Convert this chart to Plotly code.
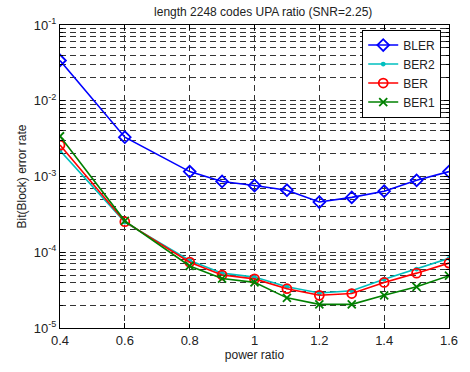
import plotly.graph_objects as go

power_ratio = [0.4, 0.6, 0.8, 0.9, 1.0, 1.1, 1.2, 1.3, 1.4, 1.5, 1.6]
bler = [0.034, 0.0033, 0.00116, 0.00086, 0.00076, 0.00066, 0.00046, 0.00053, 0.00064, 0.00089, 0.00116]
ber2 = [0.0022, 0.00025, 7.8e-5, 5.3e-5, 4.7e-5, 3.5e-5, 2.9e-5, 3.1e-5, 4.4e-5, 6.0e-5, 8.3e-5]
ber = [0.0026, 0.000253, 7.4e-5, 5.0e-5, 4.45e-5, 3.3e-5, 2.7e-5, 2.85e-5, 4.0e-5, 5.3e-5, 7.2e-5]
ber1 = [0.0034, 0.00026, 6.6e-5, 4.5e-5, 4.0e-5, 2.5e-5, 2.05e-5, 2.05e-5, 2.7e-5, 3.5e-5, 4.9e-5]

x_ticks = [0.4, 0.6, 0.8, 1.0, 1.2, 1.4, 1.6]
x_labels = ["0.4", "0.6", "0.8", "1", "1.2", "1.4", "1.6"]
decades = [-5, -4, -3, -2, -1]
y_vals = [10.0 ** d for d in decades]
y_text = [f"10<sup>{d}</sup>" for d in decades]

font = "Liberation Sans, Arial, sans-serif"
fig = go.Figure()
series = [
    ("BLER", bler, "#0000ff", "diamond-open", 9, 1.6),
    ("BER2", ber2, "#00bfbf", "circle", 3, 1.6),
    ("BER", ber, "#ff0000", "circle-open", 9, 1.6),
    ("BER1", ber1, "#008000", "x-thin-open", 8, 1.6),
]
for name, vals, col, sym, sz, w in series:
    fig.add_trace(go.Scatter(
        x=power_ratio, y=vals, name=name, mode="lines+markers",
        line=dict(color=col, width=w),
        marker=dict(symbol=sym, size=sz, color=col, line=dict(color=col, width=1.8)),
    ))

grid = dict(showgrid=True, gridcolor="#333333", griddash="6px,4px", gridwidth=1)
fig.update_xaxes(
    range=[0.4, 1.6], tickvals=x_ticks, ticktext=x_labels,
    showline=True, linecolor="black", linewidth=1, mirror="ticks",
    ticks="inside", ticklen=5, tickcolor="black",
    zeroline=False,
    title=dict(text="power ratio", font=dict(size=12, color="#222", family=font), standoff=4),
    tickfont=dict(size=13, color="#222", family=font),
    **grid,
)
fig.update_yaxes(
    type="log", range=[-5, -1], tickvals=y_vals, ticktext=y_text,
    showline=True, linecolor="black", linewidth=1, mirror="ticks",
    ticks="inside", ticklen=5, tickcolor="black",
    minor=dict(dtick="D1", showgrid=True, gridcolor="#333333", griddash="6px,4px",
               gridwidth=1, ticks="inside", ticklen=3, tickcolor="black"),
    title=dict(text="Bit(Block) error rate", font=dict(size=12, color="#222", family=font), standoff=4),
    tickfont=dict(size=13, color="#222", family=font),
    **grid,
)
fig.update_layout(
    width=470, height=372,
    margin=dict(l=60, r=16, t=25, b=38),
    paper_bgcolor="white", plot_bgcolor="white",
    title=dict(text="length 2248 codes UPA ratio (SNR=2.25)", x=0.56, xanchor="center",
               y=0.967, yanchor="middle", font=dict(size=12, color="#222", family=font)),
    legend=dict(x=0.98, y=0.985, xanchor="right", yanchor="top",
                bgcolor="white", bordercolor="black", borderwidth=1,
                font=dict(size=12, color="#222", family=font),
                tracegroupgap=0, itemwidth=30),
    showlegend=True,
)
fig.write_html("out.html")
